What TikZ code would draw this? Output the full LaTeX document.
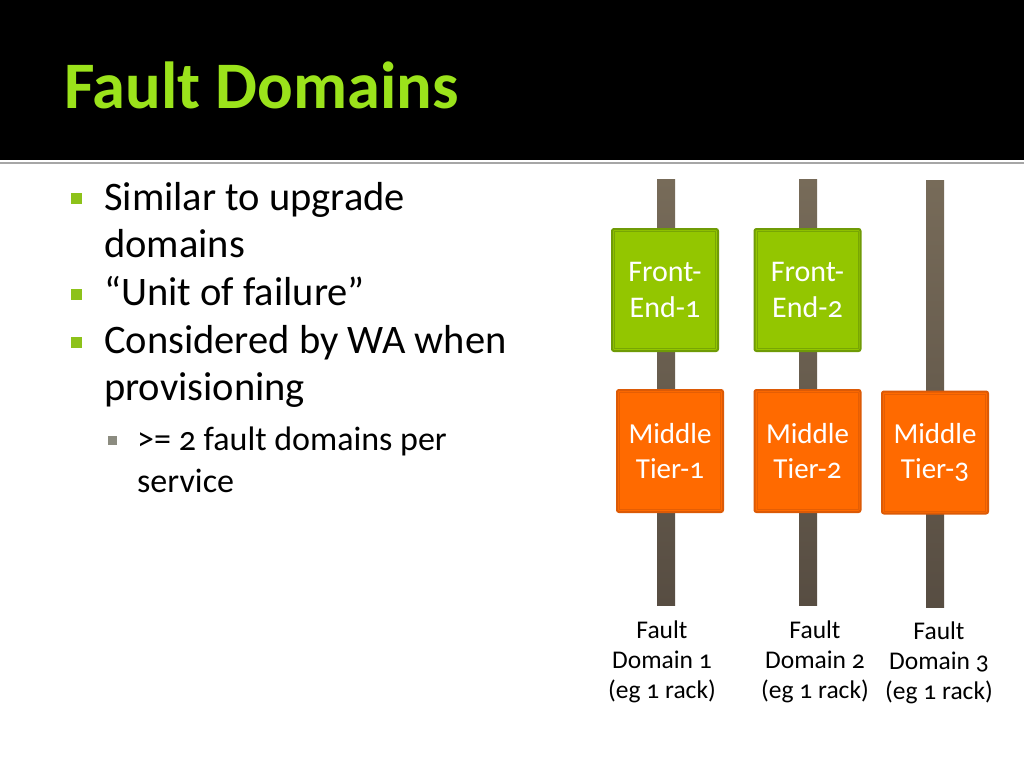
\documentclass[tikz,border=0pt]{standalone}
\usepackage{fontspec}
\setmainfont{Carlito}[Numbers=OldStyle]
\begin{document}
\begin{tikzpicture}[x=1pt,y=-1pt,
  titletext/.style={text=titlegreen,font=\fontsize{66.5}{70}\selectfont\bfseries,anchor=base west,inner sep=0},
  bodytext/.style={font=\fontsize{40.5}{48}\selectfont,anchor=base west,inner sep=0},
  subtext/.style={font=\fontsize{34}{42}\selectfont,anchor=base west,inner sep=0},
  bulletsq/.style={fill=bulletgreen,minimum size=11pt,inner sep=0},
  subsq/.style={fill=bulletgray,minimum size=9pt,inner sep=0},
  bar/.style={top color=bartop,bottom color=barbot,draw=none},
  febox/.style={fill=fegreen,draw=feborder,line width=2pt,rounded corners=2pt,
     minimum width=106pt,minimum height=122pt,inner sep=0,text=white,align=center,
     font=\fontsize{30}{36}\selectfont},
  mtbox/.style={fill=mtorange,draw=mtborder,line width=2pt,rounded corners=2pt,
     minimum width=106pt,minimum height=122pt,inner sep=0,text=white,align=center,
     font=\fontsize{29}{35}\selectfont},
  innerline/.style={line width=0.8pt},
  fdlabel/.style={font=\fontsize{25.5}{30}\selectfont,align=center,anchor=base,inner sep=0}
]
\definecolor{titlegreen}{HTML}{9BE31B}
\definecolor{bulletgreen}{HTML}{8DC21A}
\definecolor{bulletgray}{HTML}{8C8C80}
\definecolor{bartop}{HTML}{776B59}
\definecolor{barbot}{HTML}{574D42}
\definecolor{fegreen}{HTML}{93C600}
\definecolor{feborder}{HTML}{6F9B06}
\definecolor{mtorange}{HTML}{FF6A00}
\definecolor{mtborder}{HTML}{DC5A06}
\useasboundingbox (0,0) rectangle (1024,768);
\fill[white] (0,0) rectangle (1024,768);
\fill[black] (0,0) rectangle (1024,160);
\draw[gray!70,line width=2.5pt] (0,163) -- (1024,163);
\node[titletext] (title) at (64,108) {Fault Domains};
% bullets
\node[bulletsq] (b1) at (76,198) {};
\node[bodytext] (t1a) at (104,210) {Similar to upgrade};
\node[bodytext] (t1b) at (104,257) {domains};
\node[bulletsq] (b2) at (76,294) {};
\node[bodytext] (t2) at (104,305) {“Unit of failure”};
\node[bulletsq] (b3) at (76,342) {};
\node[bodytext] (t3a) at (104,353) {Considered by W\kern-1.5ptA when};
\node[bodytext] (t3b) at (104,400) {provisioning};
\node[subsq] (s1) at (112,440) {};
\node[subtext] (t4a) at (137,450) {>= 2 fault domains per};
\node[subtext] (t4b) at (137,492) {service};
% bars
\fill[bar] (657,179) rectangle (675,605);
\fill[bar] (799,179) rectangle (817,605);
\fill[bar] (926,180) rectangle (944,607);
% boxes
\node[febox] (fe1) at (665,290) {Front-\\End-1};
\node[febox] (fe2) at (807.5,290) {Front-\\End-2};
\node[mtbox] (mt1) at (670,451) {Middle\\Tier-1};
\node[mtbox] (mt2) at (807.5,451) {Middle\\Tier-2};
\node[mtbox] (mt3) at (935,452.5) {Middle\\Tier-3};
\foreach \b in {fe1,fe2}
  \draw[innerline,draw=feborder!75!fegreen] ([shift={(3.5pt,3.5pt)}]\b.south west) rectangle ([shift={(-3.5pt,-3.5pt)}]\b.north east);
\foreach \b in {mt1,mt2,mt3}
  \draw[innerline,draw=mtborder!75!mtorange] ([shift={(3.5pt,3.5pt)}]\b.south west) rectangle ([shift={(-3.5pt,-3.5pt)}]\b.north east);
% labels
\node[fdlabel] (fd1) at (662,638) {Fault};
\node[fdlabel] (fd1b) at (662,668) {Domain 1};
\node[fdlabel] (fd1c) at (662,698) {(eg 1 rack)};
\node[fdlabel] (fd2) at (815,638) {Fault};
\node[fdlabel] (fd2b) at (815,668) {Domain 2};
\node[fdlabel] (fd2c) at (815,698) {(eg 1 rack)};
\node[fdlabel] (fd3) at (939,639) {Fault};
\node[fdlabel] (fd3b) at (939,669) {Domain 3};
\node[fdlabel] (fd3c) at (939,699) {(eg 1 rack)};
\end{tikzpicture}
\end{document}
